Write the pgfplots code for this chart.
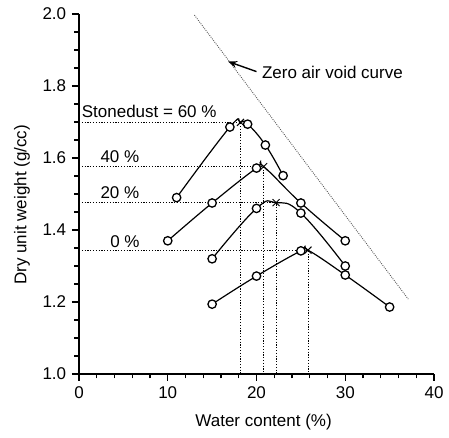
\documentclass[border=0pt]{standalone}
\usepackage{pgfplots}
\usepackage{pgfplotstable}
\pgfplotsset{compat=1.18}
\usepackage{fontspec}
\setmainfont{Liberation Sans}
\usetikzlibrary{calc,arrows.meta}

% measured points per stonedust content
\pgfplotstableread{
x y
11 1.490
17 1.686
19 1.694
21 1.636
23 1.551
}\sixty
\pgfplotstableread{
x y
10 1.370
15 1.475
20 1.572
25 1.475
30 1.370
}\forty
\pgfplotstableread{
x y
15 1.320
20 1.460
25 1.447
30 1.300
}\twenty
\pgfplotstableread{
x y
15 1.194
20 1.272
25 1.342
30 1.275
35 1.186
}\zero

\newcommand\chartfont{\fontsize{17}{20}\selectfont}

\begin{document}
\chartfont
\begin{tikzpicture}
\begin{axis}[
  scale only axis,
  width=355pt, height=360pt,
  xmin=0, xmax=40, ymin=1.0, ymax=2.0,
  axis x line*=bottom, axis y line*=left,
  xtick={0,10,20,30,40}, minor x tick num=4,
  ytick={1.0,1.2,1.4,1.6,1.8,2.0}, minor y tick num=3,
  yticklabel style={/pgf/number format/.cd,fixed,fixed zerofill,precision=1},
  /pgf/number format/assume math mode=true,
  tick label style={font=\chartfont},
  label style={font=\chartfont},
  tick align=outside,
  major tick length=7pt, minor tick length=4.5pt,
  every tick/.style={black, line width=1.1pt},
  axis line style={line width=1.3pt},
  xlabel={Water content (\%)},
  ylabel={Dry unit weight (g/cc)},
  xlabel style={at={(axis description cs:0.52,0)}, anchor=center, yshift=-48pt},
  ylabel style={at={(axis description cs:0,0.47)}, anchor=center, yshift=57pt},
  clip=false,
  pt/.style={only marks, mark=*, mark size=4.2pt, mark options={fill=white, draw=black, line width=1.3pt}},
  guide/.style={black, line width=0.9pt, dash pattern=on 1.2pt off 1.6pt},
  fit/.style={black, line width=1.2pt, smooth, tension=0.75},
]
\coordinate (ll) at (rel axis cs:0,0);
\coordinate (ur) at (rel axis cs:1,1);

% zero air void line
\addplot[black!65, line width=0.9pt, dash pattern=on 0.9pt off 1.2pt] coordinates {(13.0,1.997) (37.1,1.208)};

% guide lines to optimum points
\addplot[guide] coordinates {(0,1.699) (18.2,1.699) (18.2,1.0)};
\addplot[guide] coordinates {(0,1.576) (20.8,1.576) (20.8,1.0)};
\addplot[guide] coordinates {(0,1.476) (22.2,1.476) (22.2,1.0)};
\addplot[guide] coordinates {(0,1.344) (25.8,1.344) (25.8,1.0)};

% fitted curves
\addplot[fit] coordinates {(11,1.490) (17,1.686) (18.2,1.699) (19,1.694) (21,1.636) (23,1.551)};
\addplot[fit] coordinates {(10,1.370) (15,1.475) (20,1.572) (20.8,1.576) (25,1.475) (30,1.370)};
\addplot[fit] coordinates {(15,1.320) (20,1.460) (22.2,1.476) (25,1.447) (30,1.300)};
\addplot[fit] coordinates {(15,1.194) (20,1.272) (25,1.342) (25.8,1.344) (30,1.275) (35,1.186)};

% data points
\addplot[pt] table {\sixty};
\addplot[pt] table {\forty};
\addplot[pt] table {\twenty};
\addplot[pt] table {\zero};

% optimum points
\addplot[only marks, mark=x, mark size=5pt, mark options={black, line width=0.9pt}] coordinates {(18.2,1.699) (20.8,1.576) (22.2,1.476) (25.8,1.344)};

\node[anchor=west, inner sep=0] at (axis cs:0.3,1.728) {\chartfont Stonedust = 60 \%};
\node[anchor=west, inner sep=0] at (axis cs:2.4,1.603) {\chartfont 40 \%};
\node[anchor=west, inner sep=0] at (axis cs:2.4,1.503) {\chartfont 20 \%};
\node[anchor=west, inner sep=0] at (axis cs:3.5,1.367) {\chartfont 0 \%};

\draw[-{Stealth[length=9pt,width=7pt]}, line width=1.4pt] (axis cs:20.0,1.840) -- (axis cs:16.8,1.868);
\node[anchor=west, inner sep=0] at (axis cs:20.6,1.837) {\chartfont Zero air void curve};
\end{axis}
\pgfresetboundingbox
\path ($(ll)+(-79pt,-64pt)$) rectangle ($(ur)+(15pt,14pt)$);
\end{tikzpicture}
\end{document}
